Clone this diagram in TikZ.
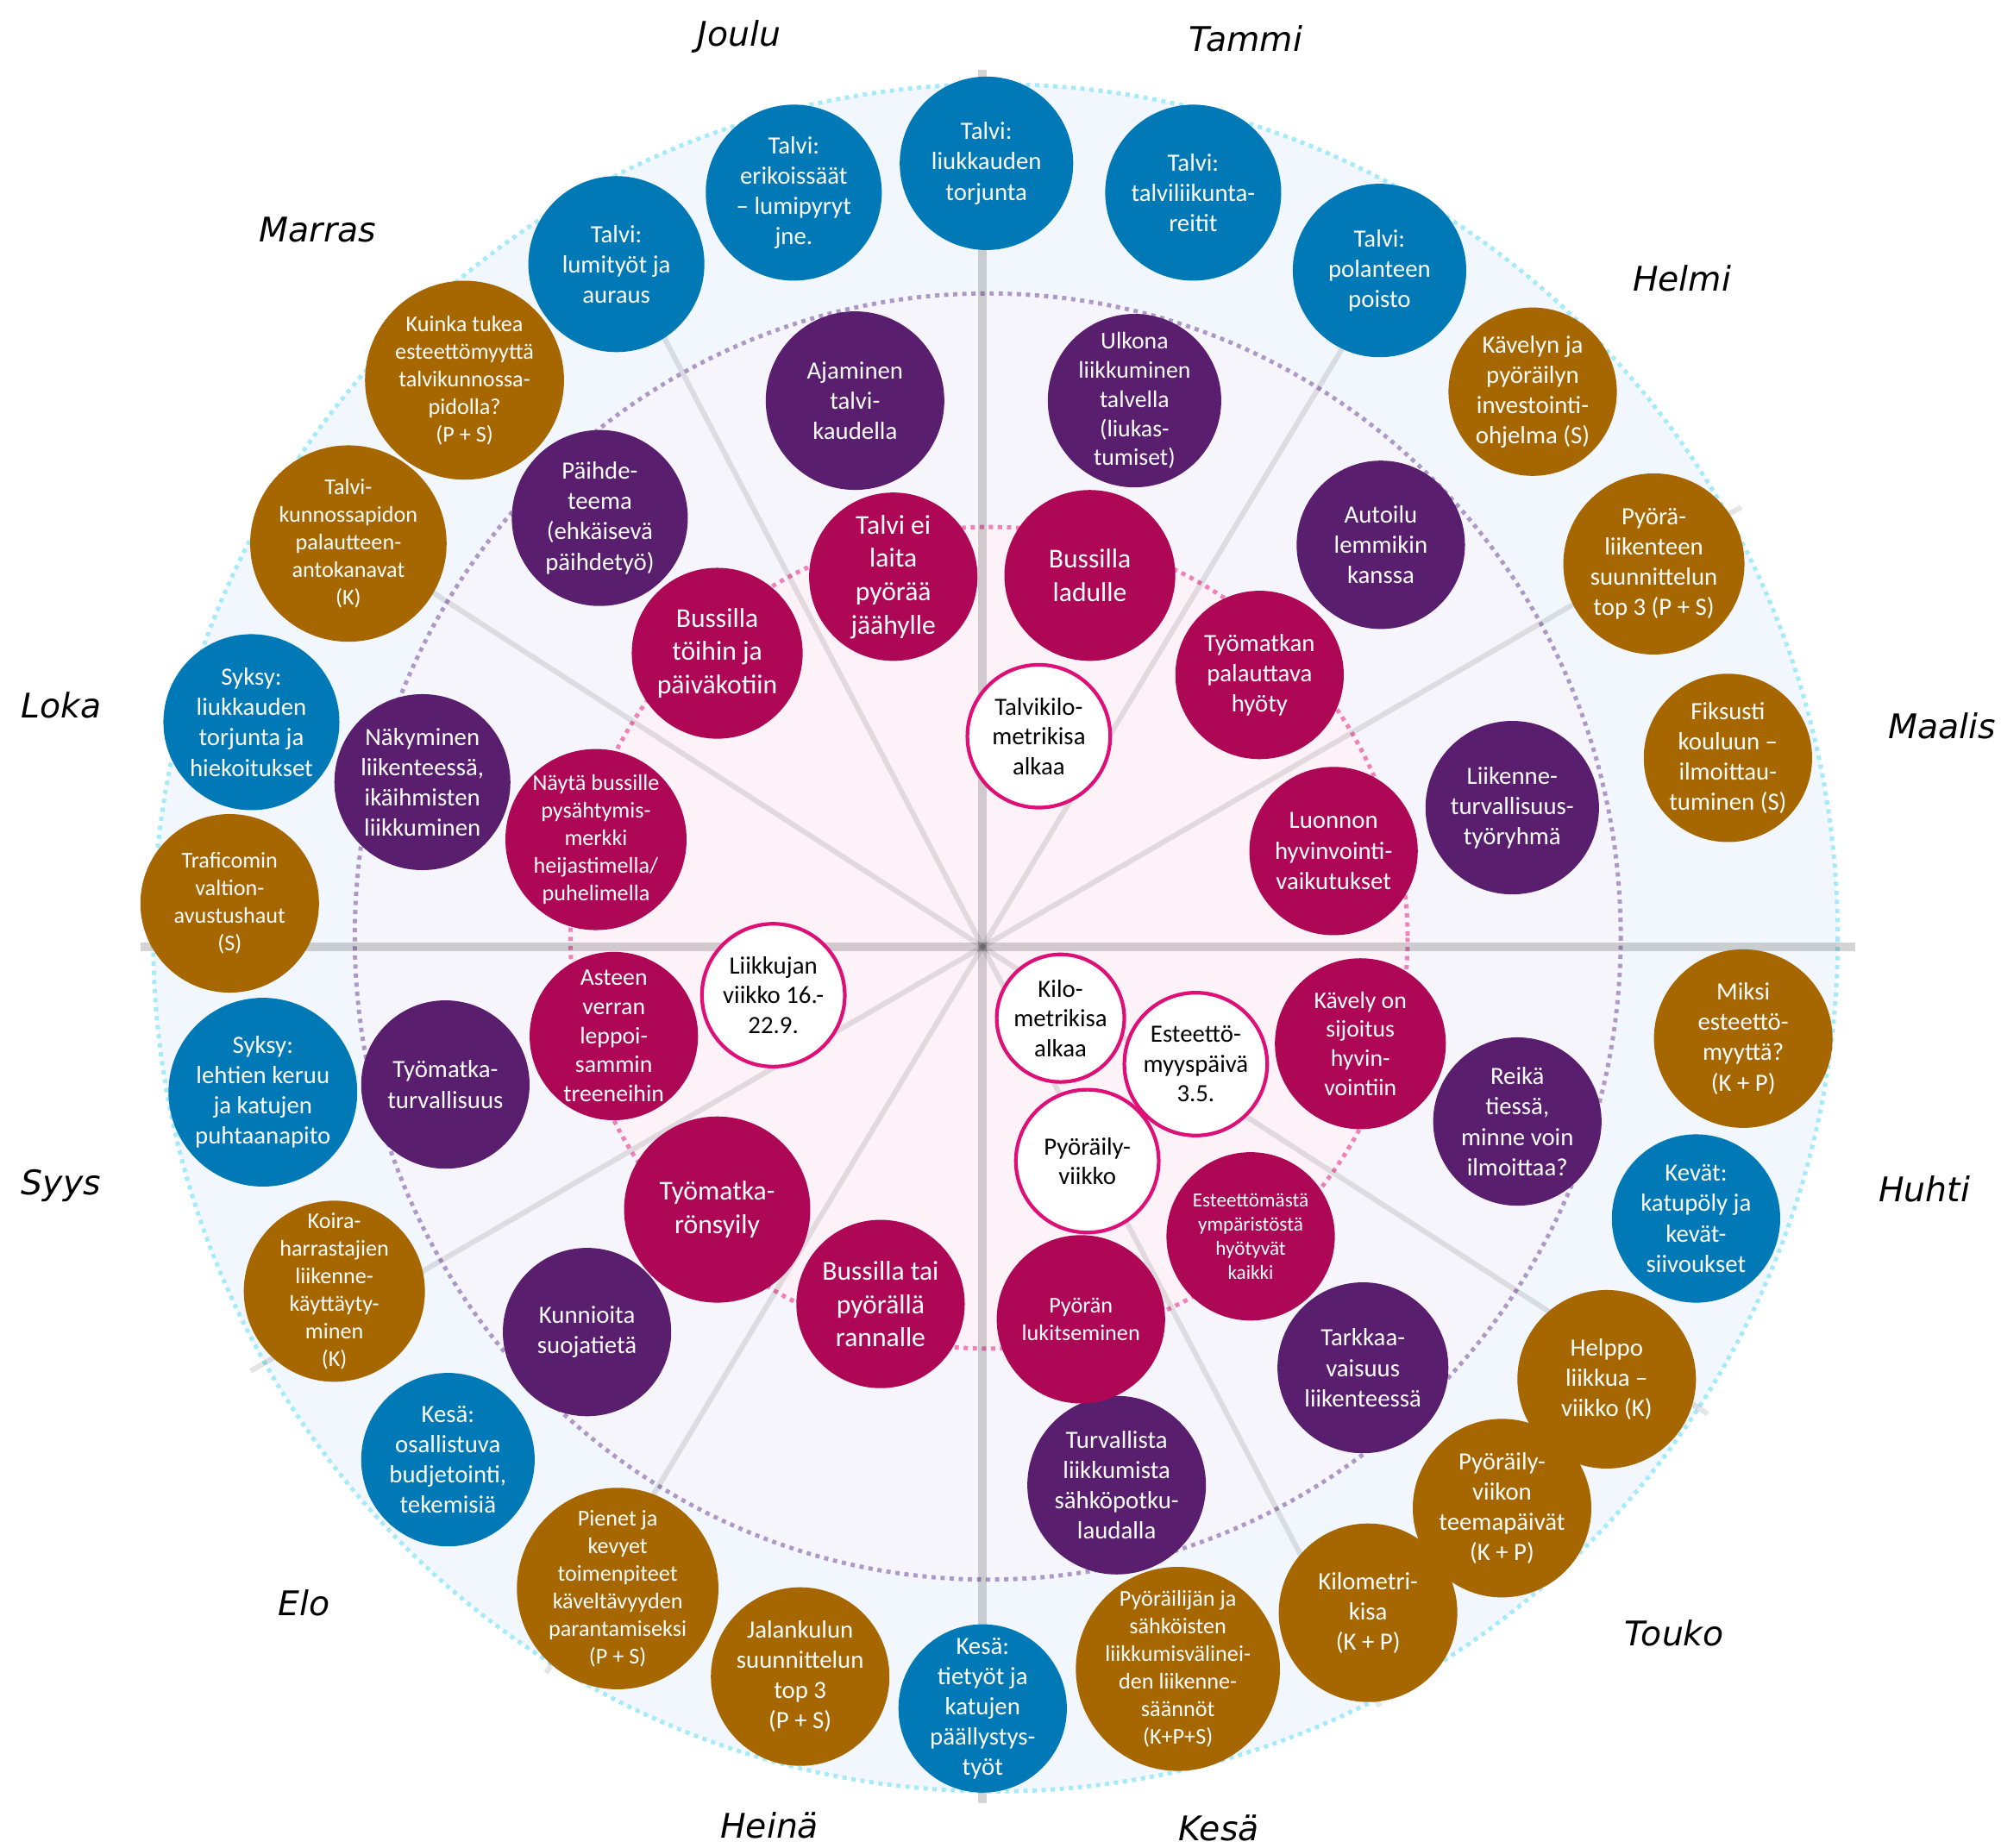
\documentclass[tikz,border=0pt]{standalone}
\usepackage{fontspec}
\setmainfont{Carlito}
\newfontfamily\monthfont{DejaVu Sans Oblique}
\definecolor{cblue}{RGB}{0,121,182}
\definecolor{cbrown}{RGB}{166,102,0}
\definecolor{cpurple}{RGB}{90,30,110}
\definecolor{cmag}{RGB}{174,7,85}
\definecolor{cring}{RGB}{222,16,120}
\definecolor{bgouter}{RGB}{241,247,253}
\definecolor{bgmid}{RGB}{246,245,251}
\definecolor{bginner}{RGB}{252,242,247}
\definecolor{dcyan}{RGB}{165,234,249}
\definecolor{dpurple}{RGB}{174,152,198}
\definecolor{dpink}{RGB}{240,128,182}
\tikzset{
  bubble/.style={circle, inner sep=0pt, draw=none},
  bblue/.style={fill=cblue},
  bbrown/.style={fill=cbrown},
  bpurp/.style={fill=cpurple},
  bmag/.style={fill=cmag},
  bring/.style={fill=white, draw=cring, line width=1.2pt},
  tn/.style={font=\fontsize{8.2}{10}\selectfont, text=white, align=center, inner sep=0pt},
  tm/.style={font=\fontsize{7.9}{9.6}\selectfont, text=white, align=center, inner sep=0pt},
  ts/.style={font=\fontsize{7.45}{9.1}\selectfont, text=white, align=center, inner sep=0pt},
  tl/.style={font=\fontsize{9}{11}\selectfont, text=white, align=center, inner sep=0pt},
  tt/.style={font=\fontsize{6.6}{8}\selectfont, text=white, align=center, inner sep=0pt},
  tk/.style={font=\fontsize{8.2}{9.8}\selectfont, text=black, align=center, inner sep=0pt},
  month/.style={font=\monthfont\fontsize{11.2}{13.4}\selectfont, text=black, inner sep=0pt},
  axisline/.style={draw=black, opacity=0.17, line width=2.9pt},
  diagline/.style={draw=black, opacity=0.10, line width=1.75pt},
  dotline/.style={line width=1.4pt, dash pattern=on 1.4pt off 1.6pt},
}
\newcommand{\bub}[6]{%
  \node[bubble,#2,minimum size=#4*0.029592cm] (#1) at (#3) {};
  \node[#5] (#1-t) at (#1.center) {#6};
}
\begin{document}
\begin{tikzpicture}[x=0.014796cm, y=-0.014796cm]
\useasboundingbox (0,0) rectangle (1568,1448);
% backgrounds
\fill[bgouter] (780,735) ellipse [x radius=660, y radius=669];
\fill[bgmid] (774,734) ellipse [x radius=496, y radius=504];
\fill[bginner] (775,735) ellipse [x radius=328, y radius=322];
\draw[dotline, dcyan] (780,735) ellipse [x radius=660, y radius=669];
\draw[dotline, dpurple] (774,734) ellipse [x radius=496, y radius=504];
\draw[dotline, dpink] (775,735) ellipse [x radius=328, y radius=322];
% spokes
\coordinate (C) at (770,742);
\draw[axisline] (C) -- ++(0:684);
\draw[axisline] (C) -- ++(-90:687);
\draw[axisline] (C) -- ++(180:660);
\draw[axisline] (C) -- ++(90:671);
\draw[diagline] (C) -- ++(-30.1:687);
\draw[diagline] (C) -- ++(-210.1:663);
\draw[diagline] (C) -- ++(-59:665);
\draw[diagline] (C) -- ++(-239:664);
\draw[diagline] (C) -- ++(-117.6:665);
\draw[diagline] (C) -- ++(-297.6:672);
\draw[diagline] (C) -- ++(-147.2:640);
\draw[diagline] (C) -- ++(-327.2:676);
% blue
\bub{b1}{bblue}{773,128}{68}{tn}{Talvi:\\liukkauden\\torjunta}
\bub{b2}{bblue}{622,151}{69}{tn}{Talvi:\\erikoissäät\\– lumipyryt\\jne.}
\bub{b3}{bblue}{935,151}{69}{tn}{Talvi:\\talviliikunta-\\reitit}
\bub{b4}{bblue}{483,207}{69}{tn}{Talvi:\\lumityöt ja\\auraus}
\bub{b5}{bblue}{1081,212}{68}{tn}{Talvi:\\polanteen\\poisto}
\bub{b6}{bblue}{197,566}{69}{tn}{Syksy:\\liukkauden\\torjunta ja\\hiekoitukset}
\bub{b7}{bblue}{206,856}{74}{tn}{Syksy:\\lehtien keruu\\ja katujen\\puhtaanapito}
\bub{b8}{bblue}{1329,955}{66}{tn}{Kevät:\\katupöly ja\\kevät-\\siivoukset}
\bub{b9}{bblue}{351,1144}{68}{tn}{Kesä:\\osallistuva\\budjetointi,\\tekemisiä}
\bub{b10}{bblue}{770,1339}{66}{tn}{Kesä:\\tietyöt ja\\katujen\\päällystys-\\työt}
% brown
\bub{w1}{bbrown}{364,298}{78}{ts}{Kuinka tukea\\esteettömyyttä\\talvikunnossa-\\pidolla?\\(P + S)}
\bub{w2}{bbrown}{273,426}{77}{ts}{Talvi-\\kunnossapidon\\palautteen-\\antokanavat\\(K)}
\bub{w3}{bbrown}{180,708}{70}{ts}{Traficomin\\valtion-\\avustushaut\\(S)}
\bub{w4}{bbrown}{262,1012}{71}{ts}{Koira-\\harrastajien\\liikenne-\\käyttäyty-\\minen\\(K)}
\bub{w5}{bbrown}{484,1245}{79}{ts}{Pienet ja\\kevyet\\toimenpiteet\\käveltävyyden\\parantamiseksi\\(P + S)}
\bub{w6}{bbrown}{627,1314}{70}{tn}{Jalankulun\\suunnittelun\\top 3\\(P + S)}
\bub{w7}{bbrown}{923,1308}{80}{ts}{Pyöräilijän ja\\sähköisten\\liikkumisvälinei-\\den liikenne-\\säännöt\\(K+P+S)}
\bub{w8}{bbrown}{1072,1264}{70}{tn}{Kilometri-\\kisa\\(K + P)}
\bub{w9}{bbrown}{1177,1182}{70}{tn}{Pyöräily-\\viikon\\teemapäivät\\(K + P)}
\bub{w10}{bbrown}{1259,1081}{70}{tn}{Helppo\\liikkua –\\viikko (K)}
\bub{w11}{bbrown}{1366,814}{70}{tn}{Miksi\\esteettö-\\myyttä?\\(K + P)}
\bub{w12}{bbrown}{1354,594}{66}{tn}{Fiksusti\\kouluun –\\ilmoittau-\\tuminen (S)}
\bub{w13}{bbrown}{1296,442}{71}{tn}{Pyörä-\\liikenteen\\suunnittelun\\top 3 (P + S)}
\bub{w14}{bbrown}{1201,307}{66}{tn}{Kävelyn ja\\pyöräilyn\\investointi-\\ohjelma (S)}
% purple
\bub{p1}{bpurp}{670,314}{70}{tn}{Ajaminen\\talvi-\\kaudella}
\bub{p2}{bpurp}{889,314}{68}{tm}{Ulkona\\liikkuminen\\talvella\\(liukas-\\tumiset)}
\bub{p3}{bpurp}{470,406}{69}{tn}{Päihde-\\teema\\(ehkäisevä\\päihdetyö)}
\bub{p4}{bpurp}{1082,427}{66}{tn}{Autoilu\\lemmikin\\kanssa}
\bub{p5}{bpurp}{331,613}{69}{tn}{Näkyminen\\liikenteessä,\\ikäihmisten\\liikkuminen}
\bub{p6}{bpurp}{1185,633}{68}{tn}{Liikenne-\\turvallisuus-\\työryhmä}
\bub{p7}{bpurp}{349,850}{66}{tn}{Työmatka-\\turvallisuus}
\bub{p8}{bpurp}{1189,879}{66}{tn}{Reikä\\tiessä,\\minne voin\\ilmoittaa?}
\bub{p9}{bpurp}{460,1044}{66}{tn}{Kunnioita\\suojatietä}
\bub{p10}{bpurp}{1068,1072}{67}{tn}{Tarkkaa-\\vaisuus\\liikenteessä}
\bub{p11}{bpurp}{875,1164}{70}{tn}{Turvallista\\liikkumista\\sähköpotku-\\laudalla}
% magenta
\bub{m1}{bmag}{700,452}{66}{tl}{Talvi ei\\laita\\pyörää\\jäähylle}
\bub{m2}{bmag}{854,451}{67}{tl}{Bussilla\\ladulle}
\bub{m3}{bmag}{562,512}{67}{tl}{Bussilla\\töihin ja\\päiväkotiin}
\bub{m4}{bmag}{987,529}{66}{tn}{Työmatkan\\palauttava\\hyöty}
\bub{m5}{bmag}{467,658}{71}{ts}{Näytä bussille\\pysähtymis-\\merkki\\heijastimella/\\puhelimella}
\bub{m6}{bmag}{1045,667}{66}{tn}{Luonnon\\hyvinvointi-\\vaikutukset}
\bub{m7}{bmag}{481,812}{66}{tm}{Asteen\\verran\\leppoi-\\sammin\\treeneihin}
\bub{m8}{bmag}{1066,818}{67}{tm}{Kävely on\\sijoitus\\hyvin-\\vointiin}
\bub{m9}{bmag}{562,948}{73}{tl}{Työmatka-\\rönsyily}
\bub{m10}{bmag}{980,969}{66}{tt}{Esteettömästä\\ympäristöstä\\hyötyvät\\kaikki}
\bub{m11}{bmag}{690,1022}{66}{tl}{Bussilla tai\\pyörällä\\rannalle}
\bub{m12}{bmag}{847,1034}{66}{ts}{Pyörän\\lukitseminen}
% rings
\bub{o1}{bring}{814,577}{56}{tk}{Talvikilo-\\metrikisa\\alkaa}
\bub{o2}{bring}{606,780}{56}{tk}{Liikkujan\\viikko 16.-\\22.9.}
\bub{o3}{bring}{831,798}{50}{tk}{Kilo-\\metrikisa\\alkaa}
\bub{o5}{bring}{852,910}{56}{tk}{Pyöräily-\\viikko}
\bub{o4}{bring}{937,834}{56}{tk}{Esteettö-\\myyspäivä\\3.5.}
% months
\node[month] (joulu) at (579,29) {Joulu};
\node[month] (tammi) at (976,30) {Tammi};
\node[month] (marras) at (249,180) {Marras};
\node[month] (helmi) at (1318,218) {Helmi};
\node[month] (loka) at (48,553) {Loka};
\node[month] (maalis) at (1522,569) {Maalis};
\node[month] (syys) at (48,929) {Syys};
\node[month] (huhti) at (1508,932) {Huhti};
\node[month] (elo) at (238,1256) {Elo};
\node[month] (touko) at (1312,1280) {Touko};
\node[month] (heina) at (603,1431) {Heinä};
\node[month] (kesa) at (955,1433) {Kesä};
\end{tikzpicture}
\end{document}
